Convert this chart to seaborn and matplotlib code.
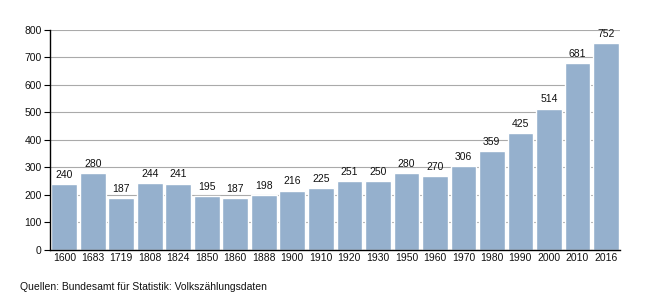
import matplotlib
matplotlib.use("Agg")
import matplotlib.pyplot as plt
import seaborn as sns
import pandas as pd

years = ["1600", "1683", "1719", "1808", "1824", "1850", "1860", "1888", "1900", "1910",
         "1920", "1930", "1950", "1960", "1970", "1980", "1990", "2000", "2010", "2016"]
population = [240, 280, 187, 244, 241, 195, 187, 198, 216, 225,
              251, 250, 280, 270, 306, 359, 425, 514, 681, 752]
yticks = [0, 100, 200, 300, 400, 500, 600, 700, 800]
source = "Quellen: Bundesamt für Statistik: Volkszählungsdaten"

sns.set_theme(style="white")
plt.rcParams['font.family'] = ['Liberation Sans', 'DejaVu Sans']

df = pd.DataFrame({"Jahr": years, "Einwohner": population})

fig = plt.figure(figsize=(6.5, 3), dpi=100)
ax = fig.add_axes([0.077, 0.167, 0.877, 0.733])
sns.barplot(data=df, x="Jahr", y="Einwohner", color="#95b0cd", saturation=1,
            width=0.9, ax=ax, zorder=2)
ax.set_xlim(-0.5, len(years) - 0.5)
ax.set_ylim(0, 800)
ax.set_yticks(yticks)
ax.set_yticklabels([str(t) for t in yticks], fontsize=7.5, color="#111111")
ax.tick_params(axis="x", labelsize=7.5, length=0, pad=2, colors="#111111")
ax.tick_params(axis="y", length=4, width=0.8, left=True, pad=2, color="#000000")
ax.set_xlabel("")
ax.set_ylabel("")
ax.grid(axis="y", color="#aaaaaa", linewidth=0.8, zorder=0)
ax.set_axisbelow(True)
for s in ["top", "right"]:
    ax.spines[s].set_visible(False)
for s in ["left", "bottom"]:
    ax.spines[s].set_color("#000000")
    ax.spines[s].set_linewidth(1.0)
for c in ax.containers:
    ax.bar_label(c, labels=[str(v) for v in population], fontsize=7.5, padding=3, color="#111111")
fig.text(0.031, 0.035, source, fontsize=7.5, color="#111111")
fig.savefig("out.png", dpi=100, facecolor="white")
